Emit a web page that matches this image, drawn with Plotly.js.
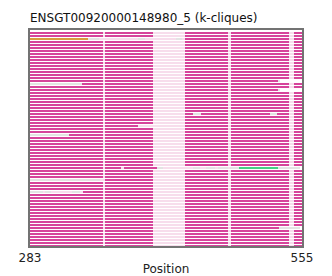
<!DOCTYPE html>
<html>
<head>
<meta charset="utf-8">
<script src="https://cdn.plot.ly/plotly-3.0.1.min.js"></script>
<style>html,body{margin:0;padding:0;background:#fff}#chart{width:332px;height:276px}</style>
</head>
<body>
<div id="chart"></div>
<script>
// ---- data ----
const titleText = "ENSGT00920000148980_5 (k-cliques)";
const posStart = 283;
const posEnd = 555;
const tickVals = [283, 555];
const nSeqs = 72;
// residue blocks shared by most sequences: [start, end, class]
const defaultBlocks = [[283,356,'m'],[358,406,'m'],[438,481,'m'],[484,542,'m'],[547,555,'m']];
// sequences that differ from the shared pattern
const specialRows = {
  2:  [[283,341,'o'],[341,352,'g'],[391,398,'g'],[429,435,'g'],[438,481,'m'],[484,542,'m'],[547,555,'m']],
  16: [[283,356,'m'],[358,406,'m'],[438,481,'m'],[484,531,'m'],[531,533,'g']],
  17: [[283,335,'g'],[335,356,'m'],[358,406,'m'],[438,481,'m'],[484,542,'m'],[547,555,'m']],
  19: [[283,356,'m'],[358,406,'m'],[438,481,'m'],[484,531,'m'],[531,533,'g']],
  27: [[283,356,'m'],[358,406,'m'],[438,446,'m'],[446,454,'g'],[454,481,'m'],[484,523,'m'],[523,530,'g'],[530,542,'m'],[547,555,'m']],
  31: [[283,356,'m'],[358,391,'m'],[438,481,'m'],[484,542,'m'],[547,555,'m']],
  34: [[283,322,'g'],[322,356,'m'],[358,406,'m'],[438,481,'m'],[484,542,'m'],[547,555,'m']],
  45: [[283,356,'m'],[358,374,'m'],[377,410,'m'],[410,416,'g'],[446,453,'g'],[459,468,'g'],[471,481,'g'],[483,492,'g'],[492,531,'c'],[531,553,'g']],
  49: [[283,353,'g'],[358,406,'m'],[438,481,'m'],[484,542,'m'],[547,555,'m']],
  53: [[283,296,'g'],[298,304,'g'],[325,333,'g'],[336,356,'m'],[358,406,'m'],[438,481,'m'],[484,542,'m'],[547,555,'m']],
  65: [[283,356,'m'],[358,406,'m'],[438,481,'m'],[484,532,'m'],[532,553,'g']]
};

// ---- styles ----
const COLORS = {m:'#d6449b', o:'#d99b3f', g:'#e3e3e3', c:'#45d184'};
const ORDER = ['g','m','o','c'];

const thin = {x:[], y:[]};
const thick = {};
ORDER.forEach(k => thick[k] = {x:[], y:[]});
for (let r = 0; r < nSeqs; r++) {
  const blocks = specialRows[r] || defaultBlocks;
  const first = blocks[0][0], last = blocks[blocks.length-1][1];
  thin.x.push(first, last, null); thin.y.push(r, r, null);
  blocks.forEach(([s,e,k]) => { thick[k].x.push(s, e, null); thick[k].y.push(r, r, null); });
}
const traces = [{
  x: thin.x, y: thin.y, type:'scatter', mode:'lines', hoverinfo:'skip', showlegend:false,
  line:{color:COLORS.m, width:0.8}, opacity:0.45
}];
ORDER.forEach(k => traces.push({
  x: thick[k].x, y: thick[k].y, type:'scatter', mode:'lines', hoverinfo:'skip', showlegend:false,
  line:{color:COLORS[k], width:2}
}));

const FONT = 'DejaVu Sans, sans-serif';
const spine = 'rgba(0,0,0,0.55)';
const layout = {
  width:332, height:276,
  margin:{l:30, r:30, t:30, b:30},
  paper_bgcolor:'#fff', plot_bgcolor:'#fff',
  font:{family:FONT, size:12, color:'#222'},
  showlegend:false,
  title:{text:titleText, font:{family:FONT, size:12, color:'#111'},
         xref:'paper', x:0, xanchor:'left', yref:'container', y:1-17.5/276, yanchor:'middle'},
  xaxis:{range:[posStart,posEnd], tickvals:tickVals, ticktext:tickVals.map(String),
         showgrid:false, zeroline:false, showline:true, mirror:true, linecolor:spine, linewidth:2,
         ticks:'', tickfont:{family:FONT, size:12, color:'#222'},
         title:{text:'Position', font:{family:FONT, size:12, color:'#222'}, standoff:2}},
  yaxis:{range:[71,-1], showgrid:false, zeroline:false, showticklabels:false, ticks:'',
         showline:true, mirror:true, linecolor:spine, linewidth:2}
};
Plotly.newPlot('chart', traces, layout, {staticPlot:true, displayModeBar:false});
</script>
</body>
</html>
